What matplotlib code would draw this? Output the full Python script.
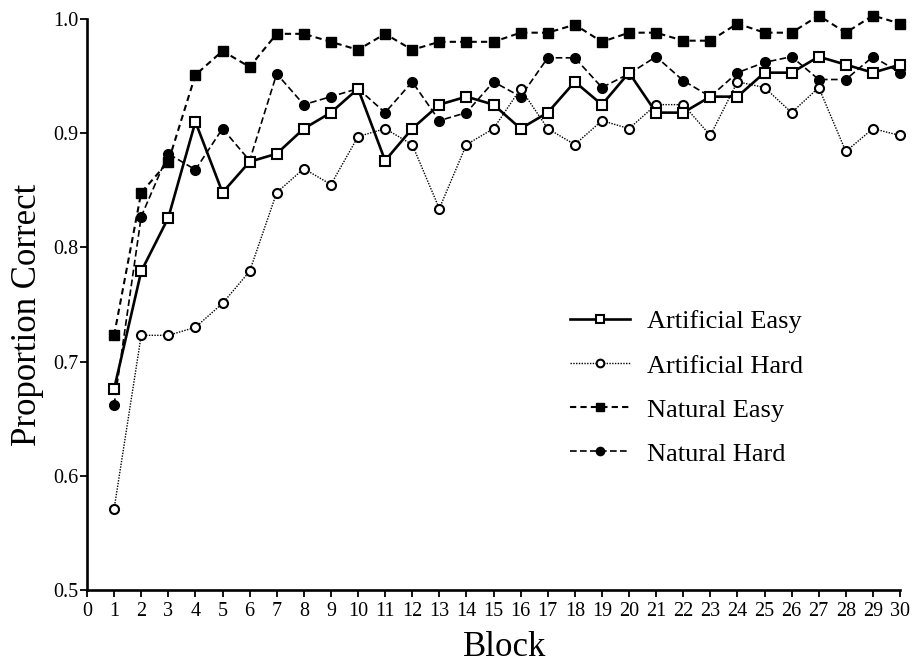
import numpy as np
import matplotlib.pyplot as plt

plt.rcParams['font.family'] = ['Liberation Serif', 'DejaVu Serif']

blocks = np.arange(1, 31)

artificial_easy = [0.676, 0.779, 0.826, 0.910, 0.848, 0.875, 0.882, 0.904, 0.918, 0.939,
                   0.876, 0.904, 0.925, 0.932, 0.925, 0.904, 0.918, 0.945, 0.925, 0.953,
                   0.918, 0.918, 0.932, 0.932, 0.953, 0.953, 0.967, 0.960, 0.953, 0.960]
artificial_hard = [0.571, 0.723, 0.723, 0.730, 0.751, 0.779, 0.848, 0.869, 0.855, 0.897,
                   0.904, 0.890, 0.834, 0.890, 0.904, 0.939, 0.904, 0.890, 0.911, 0.904,
                   0.925, 0.925, 0.898, 0.945, 0.940, 0.918, 0.940, 0.884, 0.904, 0.898]
natural_easy = [0.723, 0.848, 0.875, 0.951, 0.972, 0.958, 0.987, 0.987, 0.980, 0.973,
                0.987, 0.973, 0.980, 0.980, 0.980, 0.988, 0.988, 0.995, 0.980, 0.988,
                0.988, 0.981, 0.981, 0.996, 0.988, 0.988, 1.003, 0.988, 1.003, 0.996]
natural_hard = [0.662, 0.827, 0.882, 0.868, 0.904, 0.876, 0.952, 0.925, 0.932, 0.939,
                0.918, 0.945, 0.911, 0.918, 0.945, 0.932, 0.966, 0.966, 0.940, 0.952,
                0.967, 0.946, 0.932, 0.953, 0.962, 0.967, 0.947, 0.947, 0.967, 0.953]

fig = plt.figure(figsize=(9.13, 6.66), dpi=100)
ax = fig.add_axes([0.0953, 0.1141, 0.8905, 0.8574])

# natural conditions drawn first so the open squares sit on top
ax.plot(blocks, natural_easy, color='black', linestyle=(0, (3, 2)), linewidth=1.5,
        marker='s', markersize=7.2, markerfacecolor='black', label='Natural Easy', zorder=2)
ax.plot(blocks, natural_hard, color='black', linestyle=(0, (4, 2)), linewidth=1.2,
        marker='o', markersize=7, markerfacecolor='black', label='Natural Hard', zorder=2)
ax.plot(blocks, artificial_hard, color='black', linestyle=(0, (1, 1)), linewidth=1.0,
        marker='o', markersize=6.5, markerfacecolor='white', markeredgewidth=1.5,
        label='Artificial Hard', zorder=3)
ax.plot(blocks, artificial_easy, color='black', linestyle='-', linewidth=1.9,
        marker='s', markersize=7.5, markerfacecolor='white', markeredgewidth=1.5,
        label='Artificial Easy', zorder=4)

ax.set_xlim(0, 30)
ax.set_ylim(0.5, 1.0)
ax.set_xticks(np.arange(0, 31))
ax.set_yticks([0.5, 0.6, 0.7, 0.8, 0.9, 1.0])
ax.set_yticklabels(['0.5', '0.6', '0.7', '0.8', '0.9', '1.0'])
ax.tick_params(direction='out', length=5, width=1.3, labelsize=14.5)
ax.tick_params(axis='x', pad=3.5)
ax.tick_params(axis='y', pad=1)
ax.spines['top'].set_visible(False)
ax.spines['right'].set_visible(False)
ax.spines['left'].set_linewidth(1.9)
ax.spines['bottom'].set_linewidth(1.9)
for ln in ax.lines:
    ln.set_clip_on(False)

fig.text(505 / 913, 1 - 656 / 666, 'Block', fontsize=25, ha='center', va='baseline')
fig.text(11 / 913, 1 - 314.5 / 666, 'Proportion Correct', fontsize=25,
         rotation=90, ha='left', va='center')

handles, labels = ax.get_legend_handles_labels()
order = [3, 2, 0, 1]
ax.legend([handles[i] for i in order], [labels[i] for i in order],
          loc='upper left', bbox_to_anchor=(570 / 913, 1 - 310 / 666),
          bbox_transform=fig.transFigure, frameon=False, borderpad=0, borderaxespad=0,
          fontsize=19, handlelength=2.27, handletextpad=0.64, labelspacing=0.78,
          markerscale=0.85)

fig.savefig('out.png', dpi=100)
